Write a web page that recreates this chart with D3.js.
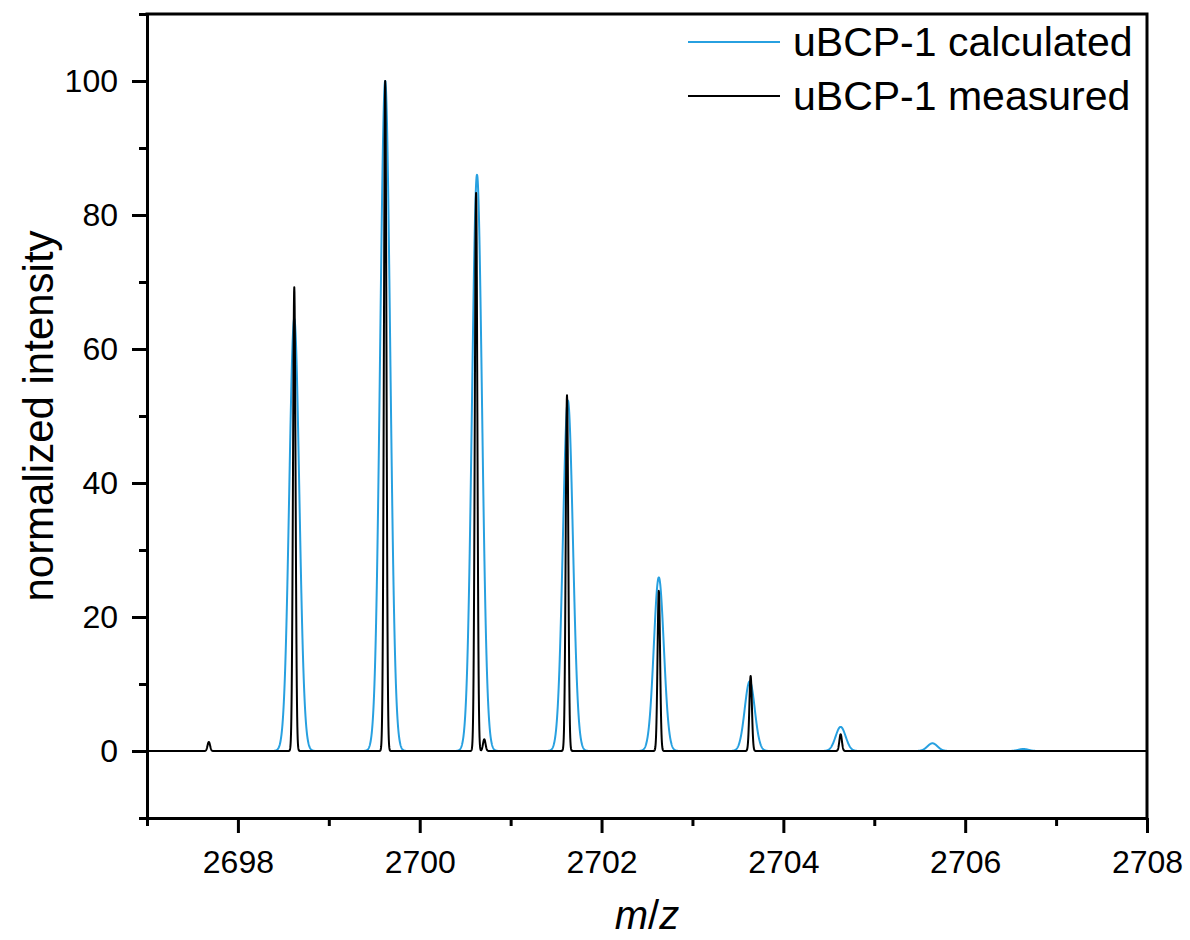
<!DOCTYPE html>
<html>
<head>
<meta charset="utf-8">
<script src="https://cdn.jsdelivr.net/npm/d3@7"></script>
<style>
  html, body { margin: 0; padding: 0; background: #fff; }
  svg { display: block; font-family: "Liberation Sans", Arial, sans-serif; }
</style>
</head>
<body>
<svg id="chart" width="1190" height="940"></svg>
<script>
// Isotope pattern peak lists (m/z, normalized intensity)
const calcMz  = [2698.62, 2699.62, 2700.63, 2701.63, 2702.63, 2703.63, 2704.63, 2705.64, 2706.64];
const calcInt = [64.5, 100, 86, 52.3, 25.9, 10.4, 3.6, 1.15, 0.3];
const measMz  = [2697.68, 2698.62, 2699.62, 2700.62, 2700.71, 2701.62, 2702.63, 2703.64, 2704.63];
const measInt = [1.35, 69.2, 100, 83.3, 1.75, 53.1, 23.9, 11.2, 2.5];

// Profile ranges and peak widths (Gaussian sigma, m/z units)
const calcRange = [2698.12, 2707.12];
const measRange = [2697.0, 2708.0];
const calcSigma = 0.055;
const measSigma = 0.014;

// Axis ticks
const xMajor = [2698, 2700, 2702, 2704, 2706, 2708];
const xMinor = [2697, 2699, 2701, 2703, 2705, 2707];
const yMajor = [0, 20, 40, 60, 80, 100];
const yMinor = [-10, 10, 30, 50, 70, 90, 110];

const seriesNames = ["uBCP-1 calculated", "uBCP-1 measured"];
const seriesColors = ["#27a0e0", "#000000"];

const W = 1190, H = 940;
const margin = { left: 147, right: 43, top: 14, bottom: 122 };

const svg = d3.select("#chart");
const x = d3.scaleLinear().domain([2697, 2708]).range([margin.left, W - margin.right]);
const y = d3.scaleLinear().domain([-10, 110]).range([H - margin.bottom, margin.top]);

// Build a profile spectrum as a sum of Gaussian peaks from a peak list
function profile(mz, inten, sigma, range, step) {
  const pts = [];
  for (let m = range[0]; m <= range[1] + 1e-9; m += step) {
    let v = 0;
    for (let i = 0; i < mz.length; i++) {
      const d = (m - mz[i]) / sigma;
      v += inten[i] * Math.exp(-0.5 * d * d);
    }
    pts.push([m, v]);
  }
  return pts;
}

const calcProfile = profile(calcMz, calcInt, calcSigma, calcRange, 0.002);
const measProfile = profile(measMz, measInt, measSigma, measRange, 0.002);

svg.append("defs").append("clipPath").attr("id", "plotClip")
  .append("rect")
  .attr("x", margin.left).attr("y", margin.top)
  .attr("width", W - margin.left - margin.right)
  .attr("height", H - margin.top - margin.bottom);

const line = d3.line().x(d => x(d[0])).y(d => y(d[1]));

const plot = svg.append("g").attr("clip-path", "url(#plotClip)");
plot.append("path").datum(calcProfile)
  .attr("d", line).attr("fill", "none")
  .attr("stroke", seriesColors[0]).attr("stroke-width", 2)
  .attr("stroke-linejoin", "round");
plot.append("path").datum(measProfile)
  .attr("d", line).attr("fill", "none")
  .attr("stroke", seriesColors[1]).attr("stroke-width", 2)
  .attr("stroke-linejoin", "round");

// Axes
const fmt = d3.format("d");
const xAxisG = svg.append("g").attr("transform", `translate(0,${y(-10)})`);
xAxisG.call(d3.axisBottom(x).tickValues(xMajor).tickFormat(fmt).tickSizeInner(15).tickSizeOuter(0).tickPadding(17));
xAxisG.append("g").call(d3.axisBottom(x).tickValues(xMinor).tickFormat("").tickSizeInner(8).tickSizeOuter(0))
  .select(".domain").remove();

const yAxisG = svg.append("g").attr("transform", `translate(${x(2697)},0)`);
yAxisG.call(d3.axisLeft(y).tickValues(yMajor).tickFormat(fmt).tickSizeInner(15).tickSizeOuter(0).tickPadding(14));
yAxisG.append("g").call(d3.axisLeft(y).tickValues(yMinor).tickFormat("").tickSizeInner(8).tickSizeOuter(0))
  .select(".domain").remove();

svg.selectAll(".tick line").attr("stroke", "#000").attr("stroke-width", 3);
svg.selectAll(".domain").attr("stroke", "#000").attr("stroke-width", 3);
svg.selectAll(".tick text").attr("font-size", 32).attr("fill", "#000")
  .attr("font-family", "'Liberation Sans', Arial, sans-serif");

// Top and right frame
svg.append("path")
  .attr("d", `M${x(2697)},${y(110)}H${x(2708)}V${y(-10)}`)
  .attr("fill", "none").attr("stroke", "#000").attr("stroke-width", 3)
  .attr("stroke-linecap", "square");

// Axis titles
svg.append("text")
  .attr("transform", `translate(53,${(y(110) + y(-10)) / 2}) rotate(-90)`)
  .attr("text-anchor", "middle").attr("font-size", 42)
  .text("normalized intensity");

const xt = svg.append("text")
  .attr("x", (x(2697) + x(2708)) / 2).attr("y", 929)
  .attr("text-anchor", "middle").attr("font-size", 40);
xt.append("tspan").attr("font-style", "italic").text("m");
xt.append("tspan").text("/");
xt.append("tspan").attr("font-style", "italic").text("z");

// Legend
const legend = svg.append("g");
seriesNames.forEach((name, i) => {
  const ly = 42 + i * 54;
  legend.append("line")
    .attr("x1", 688).attr("x2", 780).attr("y1", ly).attr("y2", ly)
    .attr("stroke", seriesColors[i]).attr("stroke-width", 2);
  legend.append("text")
    .attr("x", 793).attr("y", ly + 13.5)
    .attr("font-size", 41).attr("fill", "#000")
    .text(name);
});
</script>
</body>
</html>
